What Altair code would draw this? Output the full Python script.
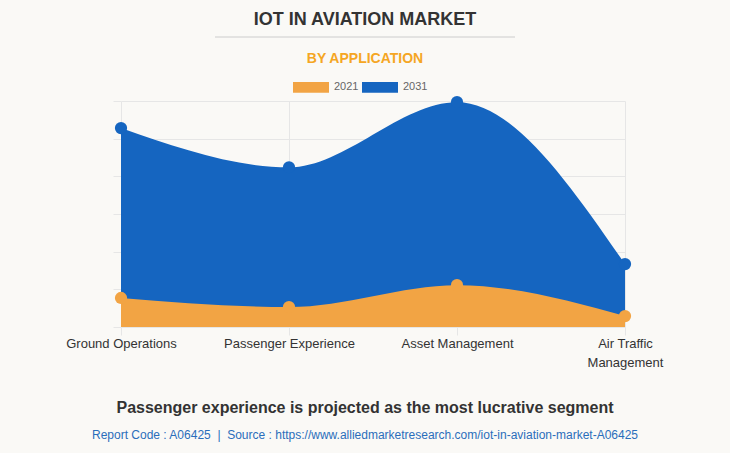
import altair as alt
import pandas as pd

categories = ["Ground Operations", "Passenger Experience", "Asset Management", "Air Traffic Management"]
v2021 = [0.77, 0.53, 1.11, 0.29]
v2031 = [5.28, 4.24, 5.97, 1.67]
series = ["2021", "2031"]
colors = ["#f2a444", "#1565c0"]

rows = []
for c, a, b in zip(categories, v2021, v2031):
    rows.append({"cat": c, "series": "2021", "value": a})
    rows.append({"cat": c, "series": "2031", "value": b})
df = pd.DataFrame(rows)

FONT = "Liberation Sans"

color = alt.Color("series:N", scale=alt.Scale(domain=series, range=colors),
                  legend=alt.Legend(title=None, orient="none", direction="horizontal",
                                    legendX=172, legendY=-32,
                                    symbolType="M-1,-0.3H1V0.3H-1Z", symbolSize=1296,
                                    symbolStrokeWidth=0, symbolOpacity=1,
                                    labelFontSize=11, labelColor="#666666", labelFont=FONT,
                                    labelOffset=5, columnPadding=3))

x = alt.X("cat:N", sort=categories, title=None,
          scale=alt.Scale(type="point", padding=0),
          axis=alt.Axis(grid=True, gridColor="#e6e6e6", domain=False, ticks=True,
                        tickColor="#e6e6e6", tickSize=8, labelAngle=0,
                        labelFont=FONT, labelFontSize=13, labelColor="#333333",
                        labelPadding=2, labelLineHeight=19, labelBaseline="top",
                        labelExpr="datum.label == 'Air Traffic Management' ? ['Air Traffic', 'Management'] : datum.label"))
y = alt.Y("value:Q", title=None, scale=alt.Scale(domain=[0, 6], nice=False),
          axis=alt.Axis(values=[0, 1, 2, 3, 4, 5, 6], labels=False, domain=False,
                        grid=True, gridColor="#e6e6e6", tickColor="#e6e6e6", tickSize=8))

base = alt.Chart(df).encode(x=x, y=y, color=color)
area31 = base.transform_filter("datum.series == '2031'").mark_area(interpolate="monotone", opacity=1)
area21 = base.transform_filter("datum.series == '2021'").mark_area(interpolate="monotone", opacity=1)
pts31 = base.transform_filter("datum.series == '2031'").mark_point(filled=True, size=150, opacity=1)
pts21 = base.transform_filter("datum.series == '2021'").mark_point(filled=True, size=150, opacity=1)

def txt(s, px, py, size, col, bold=True):
    return alt.Chart(pd.DataFrame({"t": [s]})).mark_text(
        font=FONT, fontSize=size, fontWeight="bold" if bold else "normal",
        color=col, align="center", baseline="middle").encode(
        text="t:N", x=alt.value(px), y=alt.value(py))

title = txt("IOT IN AVIATION MARKET", 244, -81, 18, "#333333")
sub = txt("BY APPLICATION", 244, -42, 14, "#f5a623")
rule = alt.Chart(pd.DataFrame({"a": [0]})).mark_rule(color="#cccccc", strokeWidth=1).encode(
    x=alt.value(94), x2=alt.value(394), y=alt.value(-64))
foot = txt("Passenger experience is projected as the most lucrative segment", 244, 307, 16, "#333333")
src = txt("Report Code : A06425\u00a0\u00a0|\u00a0\u00a0Source : https://www.alliedmarketresearch.com/iot-in-aviation-market-A06425",
          244, 334, 12, "#2a6ebb", bold=False)

chart = alt.layer(area31, area21, pts31, pts21, title, sub, rule, foot, src).properties(
    width=504, height=226,
    autosize=alt.AutoSizeParams(type="none"),
    padding={"left": 121, "top": 101, "right": 105, "bottom": 126},
    background="#faf9f6",
).configure_view(stroke=None)

chart.save("out.html", embed_options={"renderer": "svg", "actions": False})
